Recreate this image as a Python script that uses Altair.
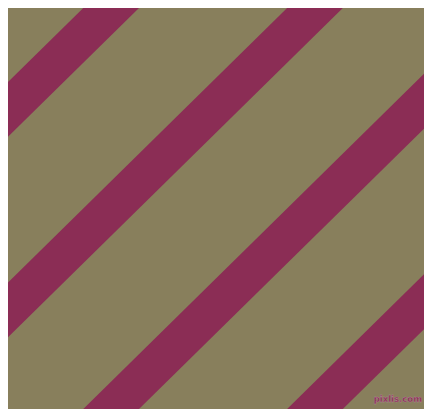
import altair as alt
import pandas as pd

# Diagonal stripe pattern, in picture-pixel units (0..432 wide, 0..417 tall, y downward)
stripe_ids = ["s1", "s2", "s3", "s4"]
stripe_top_at_left = [77, 285.5, 494, 702.5]   # y of each stripe's upper edge at x = 0
stripe_thickness = 57                          # vertical thickness of a stripe
stripe_slope = 0.985                           # rise per pixel going right
x_ends = [0, 432]

label_text = ["pixlis.com"]
label_x = [430]
label_y = [407]

rows = []
for sid, top in zip(stripe_ids, stripe_top_at_left):
    for x in x_ends:
        y = top - stripe_slope * x
        rows.append({"stripe": sid, "x": x, "y": y, "y2": y + stripe_thickness})
stripes = pd.DataFrame(rows)
labels = pd.DataFrame({"t": label_text, "x": label_x, "y": label_y})

xs = alt.Scale(domain=[0, 432], nice=False, zero=False)
ys = alt.Scale(domain=[0, 417], nice=False, zero=False, reverse=True)

area = alt.Chart(stripes).mark_area(clip=True, color="#8B2D55", interpolate="linear").encode(
    x=alt.X("x:Q", scale=xs, axis=None),
    y=alt.Y("y:Q", scale=ys, axis=None),
    y2="y2:Q",
    detail="stripe:N",
)

text = alt.Chart(labels).mark_text(
    align="right", baseline="middle", font="DejaVu Sans", fontSize=8.5,
    fontWeight="bold", color="#8B2D55", stroke="#b98aa0", strokeWidth=0.3,
).encode(
    x=alt.X("x:Q", scale=xs, axis=None),
    y=alt.Y("y:Q", scale=ys, axis=None),
    text="t:N",
)

chart = alt.layer(area, text).properties(
    width=416, height=401,
    autosize=alt.AutoSizeParams(type="fit", contains="padding"),
    padding=0,
    background="#887F5C",
).configure_view(stroke=None, fill="#887F5C")

chart.save("out.html", embed_options={"renderer": "svg", "actions": False})
